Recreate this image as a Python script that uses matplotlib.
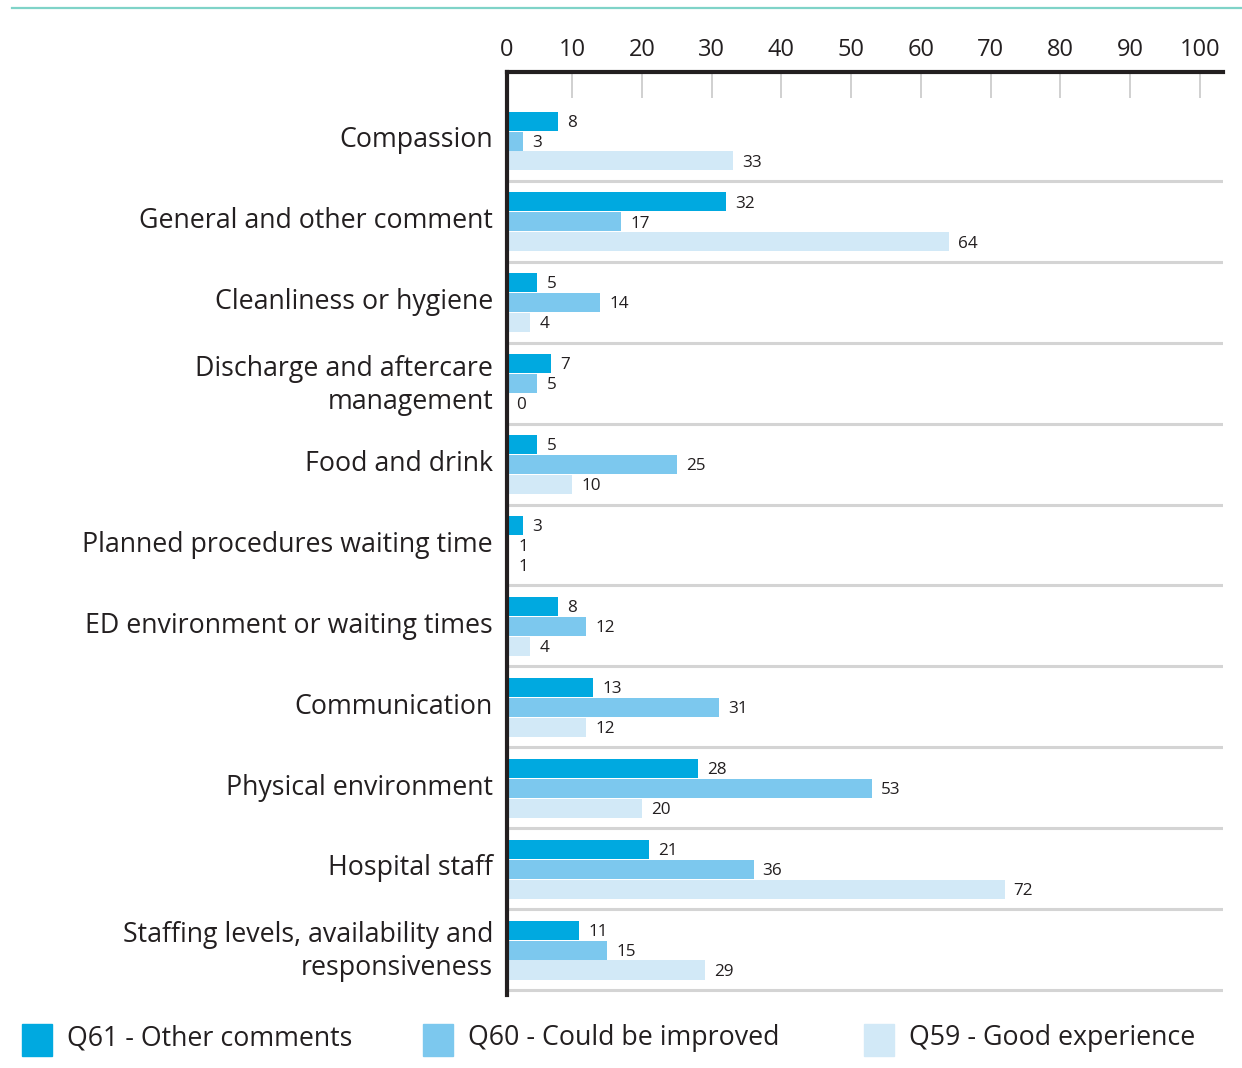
import matplotlib.pyplot as plt
import matplotlib.transforms as mtransforms
from matplotlib.patches import Rectangle
from matplotlib.lines import Line2D

plt.rcParams["font.family"] = ["Open Sans", "DejaVu Sans"]

CATEGORIES = [
    "Compassion",
    "General and other comment",
    "Cleanliness or hygiene",
    "Discharge and aftercare\nmanagement",
    "Food and drink",
    "Planned procedures waiting time",
    "ED environment or waiting times",
    "Communication",
    "Physical environment",
    "Hospital staff",
    "Staffing levels, availability and\nresponsiveness",
]

Q61_OTHER = [8, 32, 5, 7, 5, 3, 8, 13, 28, 21, 11]
Q60_IMPROVE = [3, 17, 14, 5, 25, 1, 12, 31, 53, 36, 15]
Q59_GOOD = [33, 64, 4, 0, 10, 1, 4, 12, 20, 72, 29]

SERIES_LABELS = [
    "Q61 - Other comments",
    "Q60 - Could be improved",
    "Q59 - Good experience",
]
COLORS = ["#00a9e0", "#7cc8ee", "#d2e9f7"]

X_TICKS = [0, 10, 20, 30, 40, 50, 60, 70, 80, 90, 100]

W, H = 1242, 1068
TEXT = "#231f20"


def main():
    fig = plt.figure(figsize=(W / 100, H / 100), dpi=100)

    # axes box in pixel terms (left spine, right end, top spine, bottom)
    left_px, right_px, top_px, bot_px = 507, 1223, 72, 995
    ax = fig.add_axes([
        left_px / W,
        1 - bot_px / H,
        (right_px - left_px) / W,
        (bot_px - top_px) / H,
    ])

    x_left = 0.65
    ax.set_xlim(x_left, 103.3)
    ax.set_ylim(10.556, -0.853)

    bar_h = 0.235
    step = 0.247
    series = [Q61_OTHER, Q60_IMPROVE, Q59_GOOD]
    positions = list(range(len(CATEGORIES)))

    for k, (vals, col) in enumerate(zip(series, COLORS)):
        ys = [p + (k - 1) * step for p in positions]
        ax.barh(ys, vals, height=bar_h, left=0, color=col, zorder=2)
        for y, v in zip(ys, vals):
            ax.text(
                max(v, x_left) + 1.3,
                y + 0.02,
                str(v),
                va="center",
                ha="left",
                fontsize=12.3,
                color=TEXT,
            )

    for p in positions:
        ax.axhline(p + 0.494, color="#d4d4d4", lw=2.2, zorder=1)

    ax.set_yticks(positions)
    ax.set_yticklabels(CATEGORIES, fontsize=19.3, color=TEXT, linespacing=1.22)
    ax.tick_params(axis="y", length=0, pad=10)

    # nudge category labels up a touch
    shift = mtransforms.ScaledTranslation(0, 3 / 72, fig.dpi_scale_trans)
    for lab in ax.get_yticklabels():
        lab.set_transform(lab.get_transform() + shift)

    ax.xaxis.tick_top()
    ax.set_xticks([x_left] + X_TICKS[1:])
    ax.set_xticklabels([str(t) for t in X_TICKS], fontsize=17, color=TEXT)
    ax.tick_params(
        axis="x",
        direction="in",
        length=19,
        width=1.4,
        color="#d0d0d0",
        pad=7,
    )

    for side in ["right", "bottom"]:
        ax.spines[side].set_visible(False)
    for side in ["top", "left"]:
        ax.spines[side].set_linewidth(3)
        ax.spines[side].set_color(TEXT)
        ax.spines[side].set_capstyle("projecting")
        ax.spines[side].set_zorder(5)

    # teal rule at the very top
    fig.add_artist(Line2D(
        [12 / W, 1.0], [1 - 8 / H, 1 - 8 / H],
        color="#7fd3c8", lw=1.6,
    ))

    # legend along the bottom
    legend_x = [22, 423, 864]
    for x0, lab, col in zip(legend_x, SERIES_LABELS, COLORS):
        fig.add_artist(Rectangle(
            (x0 / W, 1 - 1056 / H), 30 / W, 32 / H,
            transform=fig.transFigure, color=col,
        ))
        fig.text(
            (x0 + 45) / W, 1 - 1038 / H, lab,
            fontsize=19.3, color=TEXT, va="center", ha="left",
        )

    fig.savefig("out.png", dpi=100)
    plt.close(fig)


if __name__ == "__main__":
    main()
